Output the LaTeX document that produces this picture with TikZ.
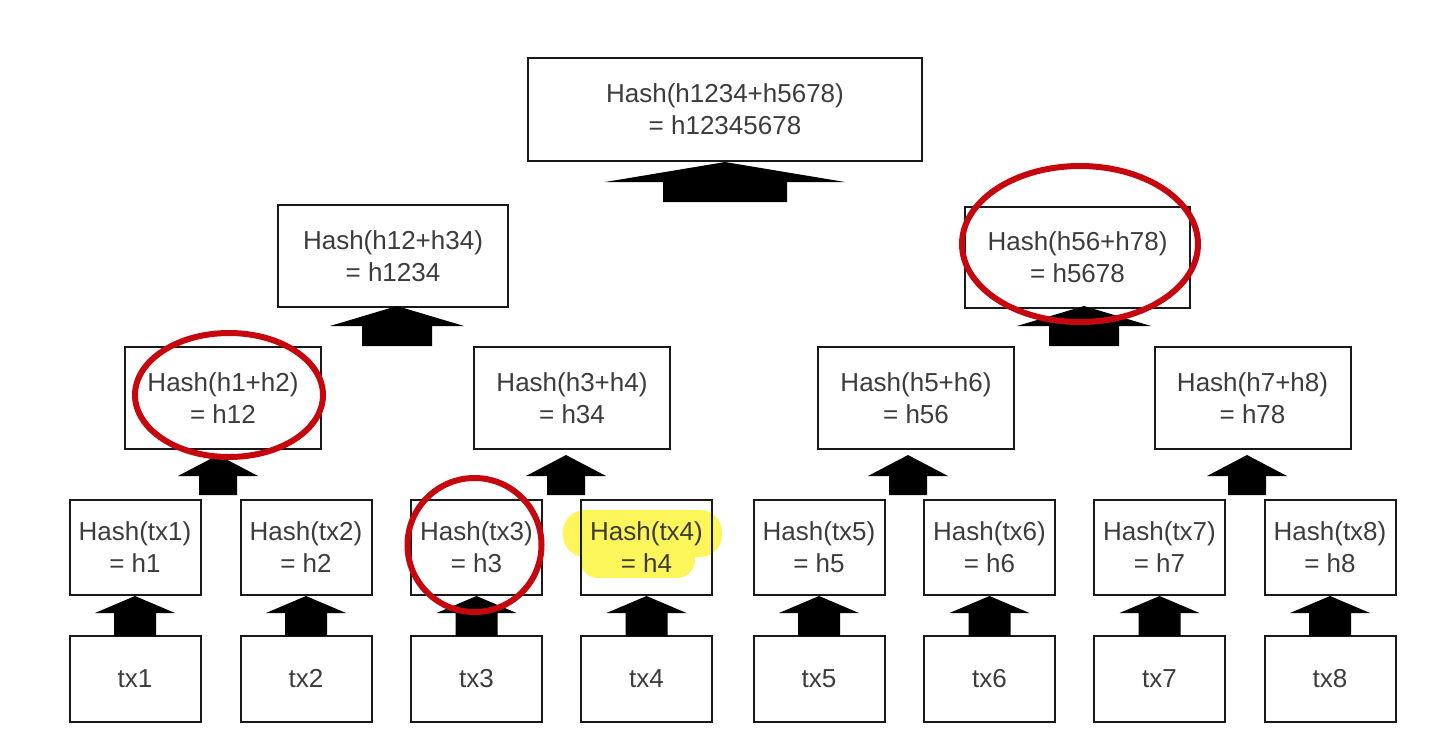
\documentclass[tikz,border=0pt]{standalone}
\usepackage{fontspec}
\setmainfont{Liberation Sans}
\definecolor{circred}{RGB}{198,8,14}
\definecolor{hlyellow}{RGB}{252,246,90}
\definecolor{txtgray}{RGB}{60,60,60}
\begin{document}
\begin{tikzpicture}[x=0.5pt,y=-0.5pt,
  box/.style={draw=black!90,line width=1pt,inner sep=0pt,align=center,
    text=txtgray,font=\fontsize{13}{16}\selectfont},
  blockarr/.style={fill=black},
  mark circle/.style={draw=circred,line width=3pt}]
\useasboundingbox (0,0) rectangle (1440,740);
% highlight (under the text)
\fill[hlyellow,rounded corners=11pt] (563,510) rectangle (722,557);
\fill[hlyellow,rounded corners=9pt] (580,538) rectangle (695,578);
% boxes
\node[box,minimum width=197pt,minimum height=51.5pt] (root) at (725,109.5) {Hash(h1234+h5678)\\= h12345678};
\node[box,minimum width=115pt,minimum height=51pt] (h1234) at (393,256) {Hash(h12+h34)\\= h1234};
\node[box,minimum width=112.5pt,minimum height=50.5pt] (h5678) at (1077.5,257.5) {Hash(h56+h78)\\= h5678};
\foreach \n/\x/\t in {h12/223/{Hash(h1+h2)\\= h12},h34/572/{Hash(h3+h4)\\= h34},h56/916/{Hash(h5+h6)\\= h56},h78/1252.5/{Hash(h7+h8)\\= h78}}
  \node[box,minimum width=98pt,minimum height=51pt] (\n) at (\x,398) {\t};
\foreach \i/\x in {1/135,2/306,3/476.5,4/646.5,5/819,6/989.5,7/1159.5,8/1330}{
  \node[box,minimum width=65.5pt,minimum height=47.5pt] (h\i) at (\x,547.5) {Hash(tx\i)\\= h\i};
  \node[box,minimum width=65.5pt,minimum height=43pt] (tx\i) at (\x,679) {tx\i};
}
% block arrows: tx -> Hash(tx)
\foreach \x in {135,306,476.5,646.5,819,989.5,1159.5,1330}
  \fill[blockarr] (\x,596) -- (\x+40,613) -- (\x+21,613) -- (\x+21,636) -- (\x-21,636) -- (\x-21,613) -- (\x-40,613) -- cycle;
% level 4 -> level 3
\foreach \x in {218,566,908,1247}
  \fill[blockarr] (\x,455) -- (\x+40,476) -- (\x+19,476) -- (\x+19,495) -- (\x-19,495) -- (\x-19,476) -- (\x-40,476) -- cycle;
% level 3 -> level 2
\foreach \x in {397,1084}
  \fill[blockarr] (\x,306) -- (\x+67,326) -- (\x+35,326) -- (\x+35,346) -- (\x-35,346) -- (\x-35,326) -- (\x-67,326) -- cycle;
% level 2 -> root
\fill[blockarr] (725,162) -- (845,182) -- (787,182) -- (787,202) -- (663,202) -- (663,182) -- (605,182) -- cycle;
% red marks
\draw[mark circle] (229,395) ellipse [x radius=94, y radius=62];
\draw[mark circle] (474.5,545) circle [radius=67];
\draw[mark circle] (1080,244) ellipse [x radius=118, y radius=78];
\end{tikzpicture}
\end{document}
